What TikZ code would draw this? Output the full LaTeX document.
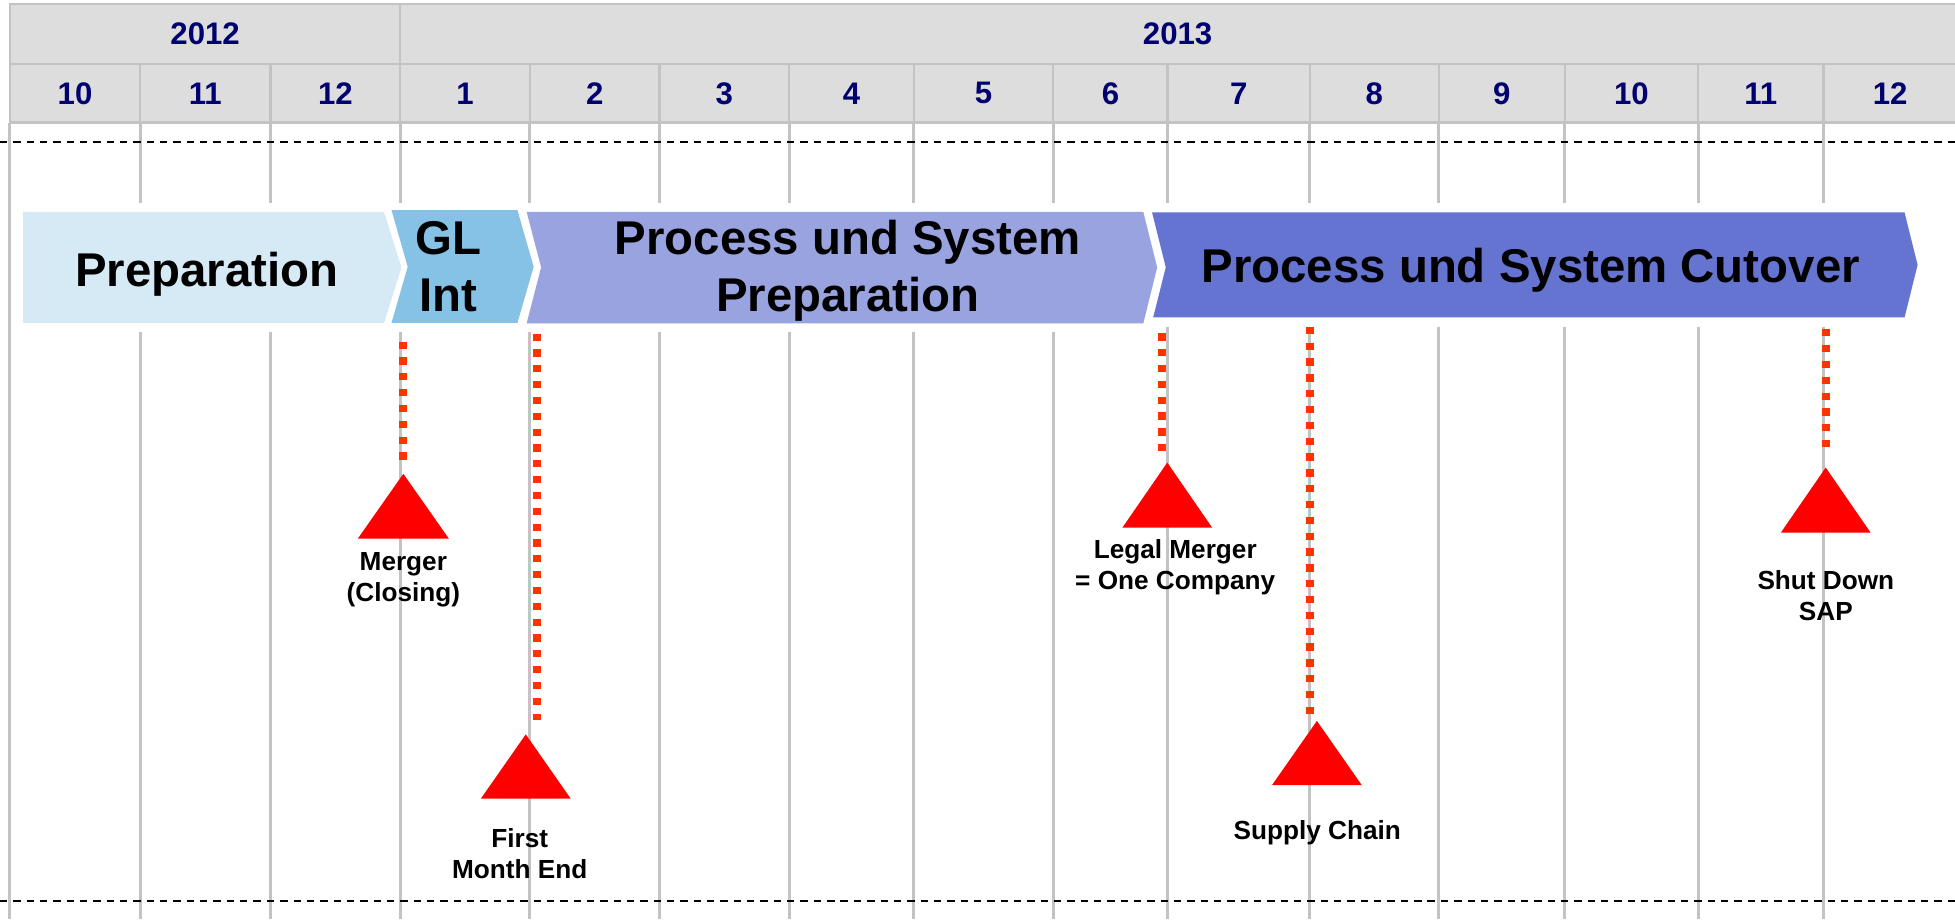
\documentclass[tikz,border=0pt]{standalone}
\usepackage{fontspec}
\setmainfont{Liberation Sans}
\usepackage{tikz}
\usepackage{xcolor}
\definecolor{hdrfill}{HTML}{DDDDDD}
\definecolor{hdrline}{HTML}{C3C3C3}
\definecolor{hdrtext}{HTML}{000070}
\definecolor{prepcol}{HTML}{D6EAF6}
\definecolor{glcol}{HTML}{85C2E6}
\definecolor{sysprepcol}{HTML}{98A3DF}
\definecolor{cutcol}{HTML}{6674D1}
\definecolor{dotred}{HTML}{FF3300}
\definecolor{msred}{HTML}{FF0000}

\begin{document}
\begin{tikzpicture}[x=1pt,y=-1pt,
	hdr/.style={fill=hdrfill,draw=hdrline,line width=2pt},
	hdrlabel/.style={text=hdrtext,inner sep=0pt,font=\fontsize{25}{30}\selectfont\bfseries},
	gridline/.style={draw=hdrline,line width=2.4pt},
	sepline/.style={draw=black,line width=1.6pt,dash pattern=on 5.9pt off 4.8pt},
	phaselabel/.style={anchor=base,inner sep=0pt,align=center,font=\fontsize{38}{45.5}\selectfont\bfseries},
	msline/.style={draw=dotred,line width=6.4pt,dash pattern=on 5.8pt off 6.9pt},
	mstone/.style={fill=msred},
	mslabel/.style={anchor=north,inner sep=0pt,align=center,font=\fontsize{21}{25}\selectfont\bfseries}]
	\path[use as bounding box,fill=white] (0,0) rectangle (1568,737.1);

	% header: years and months
	\path[hdr] (8,3.2) rectangle (321,51.3);
	\path[hdr] (321,3.2) rectangle (1580,51.3);
	\node[hdrlabel] (y2012) at (164.5,27.3) {2012};
	\node[hdrlabel] (y2013) at (944.5,27.3) {2013};
	\foreach \xa/\xb/\mon [count=\i] in {8/112.4/10,112.4/217/11,217/321/12,321/425/1,425/529/2,
		529/633/3,633/733/4,733/844.7/5,844.7/936.5/6,936.5/1050.5/7,1050.5/1154/8,
		1154/1255/9,1255/1362/10,1362/1462.5/11,1462.5/1569.5/12}
	{
		\path[hdr] (\xa,51.3) rectangle (\xb,98.4);
		\node[hdrlabel] (m\i) at ({(\xa+\xb)/2},74.9) {\mon};
	}

	% month grid
	\draw[gridline] (8,98.4) -- (8,737.1);
	\foreach \gx in {112.4,217,321,425,529,633,733,844.7}
	{
		\draw[gridline] (\gx,98.4) -- (\gx,163);
		\draw[gridline] (\gx,266) -- (\gx,737.1);
	}
	\foreach \gx in {936.5,1050.5,1154,1255,1362,1462.5}
	{
		\draw[gridline] (\gx,98.4) -- (\gx,163);
		\draw[gridline] (\gx,262) -- (\gx,737.1);
	}
	\draw[sepline] (0,114) -- (1568,114);
	\draw[sepline] (0,722.5) -- (1568,722.5);

	% phases
	\fill[prepcol] (18.6,170) -- (308,170) -- (322,214.5) -- (308,259) -- (18.6,259) -- cycle;
	\fill[glcol] (314,168.5) -- (415,168.5) -- (428,214) -- (415,259) -- (314,259) -- (327,214) -- cycle;
	\fill[sysprepcol] (422.4,170) -- (917,170) -- (928.1,214.4) -- (917,259.3) -- (422.4,259.3) -- (434,214.4) -- cycle;
	\fill[cutcol] (924,170.3) -- (1527.5,170.3) -- (1538,212.5) -- (1527.5,254.6) -- (924.9,254.6) -- (935,214.4) -- cycle;
	\node[phaselabel] (prep) at (166,229.4) {Preparation};
	\node[phaselabel] (glint) at (359.5,250) {GL\\Int};
	\node[phaselabel] (sysprep) at (680,250) {Process und System\\Preparation};
	\node[phaselabel] (cutover) at (1227.7,226.7) {Process und System Cutover};

	% milestones
	\coordinate (merger top) at (323.5,273.9);
	\coordinate (merger end) at (323.5,369.7);
	\coordinate (first top) at (431,267.5);
	\coordinate (first end) at (431,577.7);
	\coordinate (legal top) at (931.9,267.3);
	\coordinate (legal end) at (931.9,362.7);
	\coordinate (supply top) at (1050.7,262.1);
	\coordinate (supply end) at (1050.7,573);
	\coordinate (shut top) at (1464.3,264);
	\coordinate (shut end) at (1464.3,359.5);
	\path (merger top) edge[msline] (merger end);
	\path (first top) edge[msline] (first end);
	\path (legal top) edge[msline] (legal end);
	\path (supply top) edge[msline] (supply end);
	\path (shut top) edge[msline] (shut end);

	\fill[mstone] (323.5,380) -- ++(-36.5,52) -- ++(73,0) -- cycle;
	\fill[mstone] (421.7,589) -- ++(-36,51.5) -- ++(72,0) -- cycle;
	\fill[mstone] (936.2,371) -- ++(-36,52.2) -- ++(72,0) -- cycle;
	\fill[mstone] (1056.2,578.2) -- ++(-36,51.5) -- ++(72,0) -- cycle;
	\fill[mstone] (1464.3,375) -- ++(-36,52.2) -- ++(72,0) -- cycle;

	\node[mslabel] (merger) at (323.5,443) {Merger\\(Closing)};
	\node[mslabel] (first) at (416.8,664.3) {First\\Month End};
	\node[mslabel] (legal) at (942.6,432.6) {Legal Merger\\= One Company};
	\node[mslabel] (supply) at (1056.5,658) {Supply Chain};
	\node[mslabel] (shut) at (1464.4,457) {Shut Down\\SAP};
\end{tikzpicture}
\end{document}
